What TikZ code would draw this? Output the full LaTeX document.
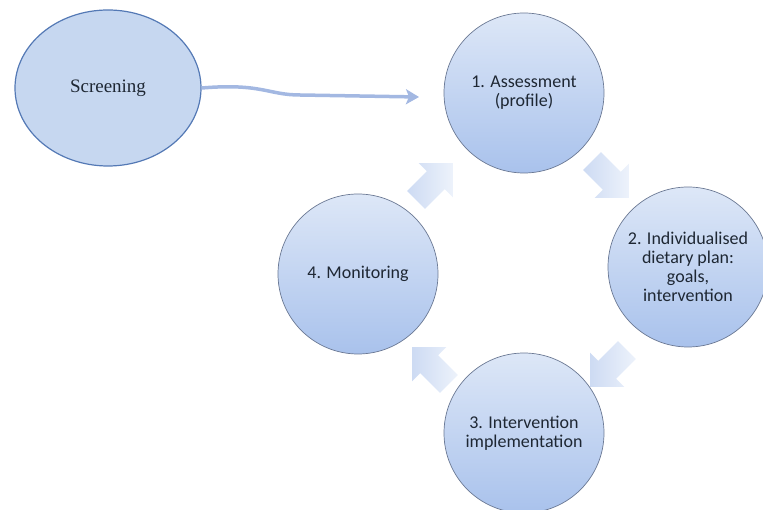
\documentclass[tikz,border=0pt]{standalone}
\usepackage{fontspec}
\setmainfont{Liberation Serif}
\newfontfamily\calib{Carlito}
\usetikzlibrary{shapes.geometric,shapes.arrows,arrows.meta}

\definecolor{ringline}{HTML}{6A7893}
\definecolor{ringtop}{HTML}{DDE7F7}
\definecolor{ringbot}{HTML}{A9C2EC}
\definecolor{scrfill}{HTML}{C6D7F0}
\definecolor{scrline}{HTML}{5479B5}
\definecolor{flowcol}{HTML}{A3B8E2}
\definecolor{labtext}{HTML}{1E2733}
\definecolor{turntail}{HTML}{CDDBF3}
\definecolor{turnhead}{HTML}{EDF2FB}

\begin{document}
\begin{tikzpicture}[x=1pt,y=-1pt,
    stage/.style={circle,draw=ringline,line width=0.7pt,top color=ringtop,bottom color=ringbot,
      minimum size=160pt,inner sep=0pt,align=center,text=labtext,
      font=\calib\fontsize{18}{19}\selectfont},
    turn/.style={single arrow,minimum height=52pt,inner xsep=0pt,inner ysep=12.5pt,
      single arrow head extend=11.5pt,left color=turntail,right color=turnhead},
    flow/.style={draw=flowcol,line width=3.5pt,-{Stealth[length=13pt,width=15pt,inset=3pt]}}]
  \useasboundingbox (0,0) rectangle (763,510);
  % screening entry
  \node[ellipse,draw=scrline,line width=1.2pt,fill=scrfill,minimum width=186pt,minimum height=156pt,
    text=labtext,font=\fontsize{19}{22}\selectfont] (scr) at (108,88) {Screening};
  % the four stages
  \node[stage] (assess) at (524,93) {1. Assessment\\(profile)};
  \node[stage] (plan) at (688,267) {2. Individualised\\dietary plan:\\goals,\\intervention};
  \node[stage] (impl) at (524,433) {3. Intervention\\implementation};
  \node[stage] (monit) at (358,274) {4. Monitoring};
  % cycle arrows
  \node[turn,rotate=45] (a41) at (430,186) {};
  \node[turn,rotate=-45] (a12) at (606,175) {};
  \node[turn,rotate=-135] (a23) at (613,364) {};
  \node[turn,rotate=135] (a34) at (435,370) {};
  \coordinate (tip) at (419,97);
  \draw[flow] (scr.east) .. controls (262,83) and (268,95) .. (300,95) -- (tip);
\end{tikzpicture}
\end{document}
